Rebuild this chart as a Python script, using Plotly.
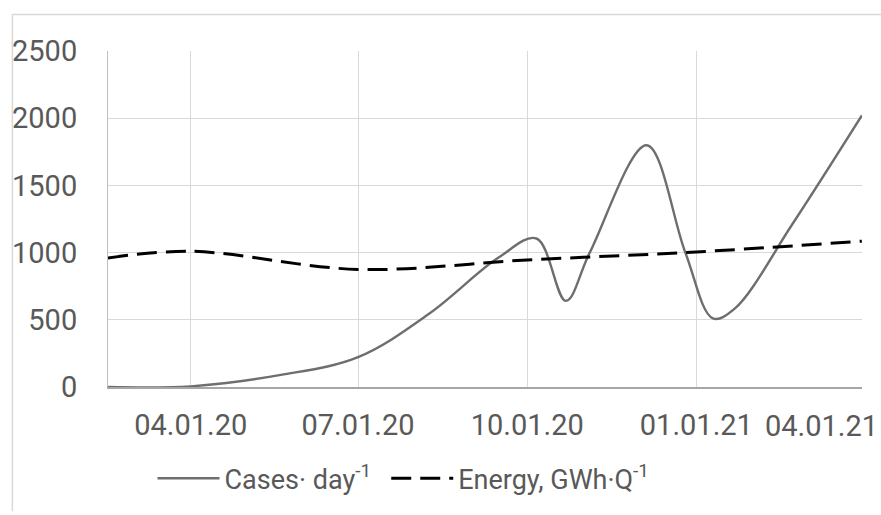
import plotly.graph_objects as go

# Cases per day
case_dates = ["2020-02-16", "2020-04-01", "2020-05-20", "2020-07-01", "2020-08-09",
              "2020-09-15", "2020-10-06", "2020-10-22", "2020-11-04", "2020-12-05",
              "2020-12-26", "2021-01-10", "2021-01-22", "2021-02-22", "2021-04-01"]
case_values = [0, 5, 90, 222, 548,
               959, 1105, 641, 1000, 1799,
               1000, 511, 585, 1207, 2020]

# Energy per quarter
energy_dates = ["2020-02-16", "2020-04-01", "2020-07-01", "2020-10-01", "2021-01-01", "2021-04-01"]
energy_values = [960, 1010, 875, 945, 1005, 1085]

tick_dates = ["2020-04-01", "2020-07-01", "2020-10-01", "2021-01-01", "2021-04-01"]
tick_labels = ["04.01.20", "07.01.20", "10.01.20", "01.01.21", "04.01.21"]

FONT = "Roboto, sans-serif"
TXT = "#595959"

fig = go.Figure()
fig.add_trace(go.Scatter(x=case_dates, y=case_values, mode="lines",
                         name="Cases\u00b7 day<sup>-1</sup>", legend="legend",
                         line=dict(color="#6e6e6e", width=2.4, shape="spline", smoothing=1.0)))
fig.add_trace(go.Scatter(x=energy_dates, y=energy_values, mode="lines",
                         name="Energy, GWh\u00b7Q<sup>-1</sup>", legend="legend2",
                         line=dict(color="#000000", width=3, dash="20px,9px", shape="spline", smoothing=1.0)))

# all tick labels except the last one are drawn by the axis; the last one is
# pulled left so it stays inside the picture, as in the reference
axis_text = tick_labels[:-1] + [""]

legend_style = dict(orientation="h", y=-0.2, xanchor="left", yanchor="top",
                    font=dict(size=27, color=TXT), itemwidth=62,
                    bgcolor="rgba(0,0,0,0)")

fig.update_layout(
    width=881, height=515,
    margin=dict(l=105, r=19, t=51, b=123),
    paper_bgcolor="white", plot_bgcolor="white",
    font=dict(family=FONT, size=29, color=TXT),
    showlegend=True,
    legend=dict(x=0.059, **legend_style),
    legend2=dict(x=0.369, **legend_style),
    xaxis=dict(type="date", range=["2020-02-16", "2021-04-01 02:00"],
               tickvals=tick_dates, ticktext=axis_text,
               showgrid=True, gridcolor="#d9d9d9", gridwidth=1,
               showline=True, linecolor="#a6a6a6", linewidth=1.5,
               ticks="", ticklabelstandoff=11, zeroline=False),
    yaxis=dict(range=[0, 2500], tickvals=[0, 500, 1000, 1500, 2000, 2500],
               showgrid=True, gridcolor="#d9d9d9", gridwidth=1,
               showline=True, linecolor="#bfbfbf", linewidth=1,
               ticks="", ticklabelstandoff=24, zeroline=False),
    annotations=[
        dict(text=tick_labels[-1], xref="paper", yref="paper", x=1.0238, y=-0.115,
             xanchor="right", yanchor="middle", showarrow=False,
             font=dict(family=FONT, size=29, color=TXT)),
    ],
    shapes=[
        dict(type="line", xref="paper", yref="paper", x0=-0.1268, x1=-0.1268, y0=1.1085, y1=-0.37,
             line=dict(color="#d9d9d9", width=1.5)),
        dict(type="line", xref="paper", yref="paper", x0=-0.1268, x1=1.03, y0=1.1085, y1=1.1085,
             line=dict(color="#d9d9d9", width=1.5)),
    ],
)

fig.write_html("out.html")
